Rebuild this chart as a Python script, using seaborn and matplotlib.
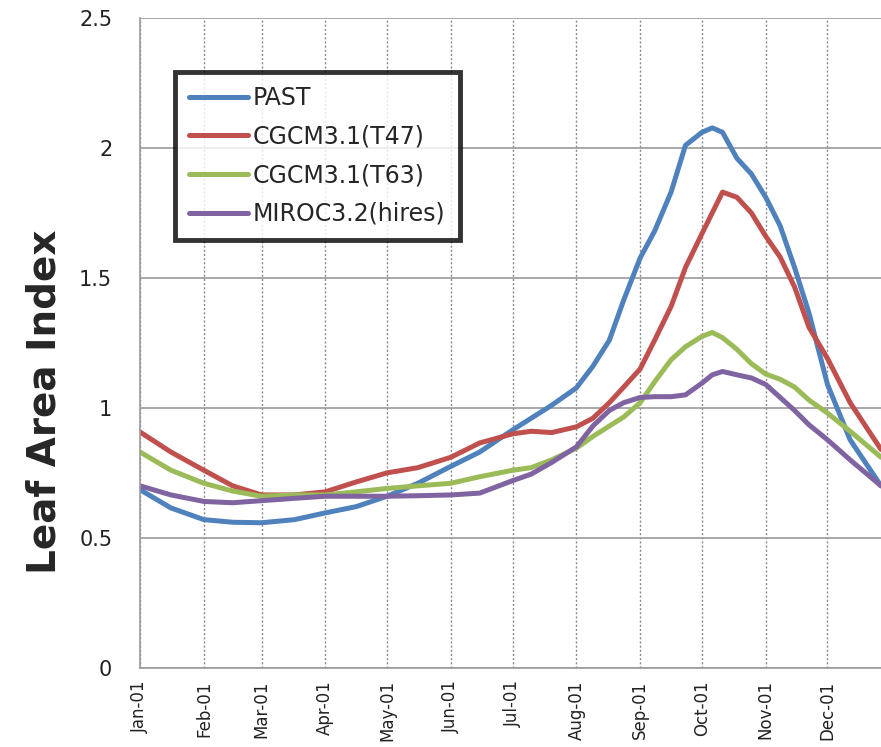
import numpy as np
import pandas as pd
import matplotlib
matplotlib.use("Agg")
import matplotlib.pyplot as plt
import seaborn as sns

# Datos (dia del año -> LAI)
dias = [0, 15, 31, 45, 59, 75, 90, 105, 120, 135, 151, 165, 181, 190, 200,
        212, 220, 228, 235, 243, 250, 258, 265, 273, 278, 283, 290, 297,
        304, 311, 318, 325, 334, 345, 360]

past = [0.685, 0.615, 0.57, 0.56, 0.558, 0.57, 0.596, 0.62, 0.66, 0.71, 0.775,
        0.83, 0.915, 0.96, 1.01, 1.077, 1.16, 1.26, 1.415, 1.577, 1.68, 1.83,
        2.01, 2.06, 2.077, 2.06, 1.96, 1.90, 1.81, 1.70, 1.54, 1.365, 1.09,
        0.877, 0.70]

t47 = [0.907, 0.83, 0.76, 0.70, 0.665, 0.665, 0.677, 0.715, 0.75, 0.77, 0.81,
       0.865, 0.90, 0.91, 0.905, 0.927, 0.96, 1.02, 1.08, 1.15, 1.26, 1.39,
       1.54, 1.67, 1.75, 1.83, 1.81, 1.75, 1.66, 1.58, 1.465, 1.31, 1.19,
       1.02, 0.84]

t63 = [0.83, 0.76, 0.71, 0.68, 0.66, 0.665, 0.665, 0.677, 0.69, 0.70, 0.71,
       0.735, 0.76, 0.77, 0.80, 0.845, 0.89, 0.93, 0.965, 1.02, 1.10, 1.185,
       1.235, 1.275, 1.29, 1.27, 1.225, 1.17, 1.13, 1.11, 1.08, 1.03, 0.98,
       0.91, 0.81]

miroc = [0.70, 0.665, 0.64, 0.635, 0.643, 0.652, 0.66, 0.66, 0.66, 0.662,
         0.665, 0.672, 0.72, 0.745, 0.79, 0.85, 0.93, 0.99, 1.02, 1.04, 1.043,
         1.043, 1.05, 1.095, 1.127, 1.14, 1.127, 1.115, 1.09, 1.04, 0.99,
         0.935, 0.877, 0.80, 0.70]

series = ["PAST", "CGCM3.1(T47)", "CGCM3.1(T63)", "MIROC3.2(hires)"]
colores = ["#4F81BD", "#C0504D", "#9BBB59", "#8064A2"]

mes_inicio = [0, 31, 59, 90, 120, 151, 181, 212, 243, 273, 304, 334]
mes_etiquetas = ["Jan-01", "Feb-01", "Mar-01", "Apr-01", "May-01", "Jun-01",
                 "Jul-01", "Aug-01", "Sep-01", "Oct-01", "Nov-01", "Dec-01"]

# Tabla larga para seaborn
df = pd.DataFrame({
    "dia": dias * 4,
    "lai": past + t47 + t63 + miroc,
    "serie": np.repeat(series, len(dias)),
})

sns.set_style("white")
plt.rcParams["font.family"] = ["DejaVu Sans"]

fig = plt.figure(figsize=(8.81, 7.47), dpi=100)
ax = fig.add_axes([0.159, 0.106, 0.841, 0.870])

sns.lineplot(data=df, x="dia", y="lai", hue="serie", hue_order=series,
             palette=colores, linewidth=3.6, ax=ax, sort=False)

ax.set_xlim(0, 360)
ax.set_ylim(0, 2.5)
ax.set_yticks([0, 0.5, 1, 1.5, 2, 2.5])
ax.set_yticklabels(["0", "0.5", "1", "1.5", "2", "2.5"], fontsize=15, color="#222222")
ax.set_xticks(mes_inicio)
ax.set_xticklabels(mes_etiquetas, rotation=90, fontsize=12, color="#222222")

# rejilla: horizontal continua, vertical punteada
ax.grid(axis="y", color="#9a9a9a", linewidth=1.2, linestyle="-")
ax.grid(axis="x", color="#8a8a8a", linewidth=1.0, linestyle=(0, (1.5, 1.5)))
ax.set_axisbelow(True)

for lado in ["top", "right"]:
    ax.spines[lado].set_visible(False)
for lado in ["left", "bottom"]:
    ax.spines[lado].set_color("#9a9a9a")
    ax.spines[lado].set_linewidth(1.2)
ax.tick_params(axis="y", direction="out", length=7, width=1.2, color="#9a9a9a", pad=13)
ax.tick_params(axis="x", direction="out", length=5, width=1.2, color="#9a9a9a", pad=4)

ax.set_xlabel("")
ax.set_ylabel("Leaf Area Index", fontsize=28, fontweight="bold")
ax.yaxis.set_label_coords(-0.104, 0.41)

leg = ax.legend(loc="upper left", bbox_to_anchor=(0.047, 0.917), borderaxespad=0,
                fontsize=17, frameon=True, fancybox=False, handlelength=2.5,
                labelspacing=0.62, handletextpad=0.2, borderpad=0.6)
leg.get_frame().set_edgecolor("black")
leg.get_frame().set_linewidth(3.5)
for linea in leg.get_lines():
    linea.set_linewidth(3.6)

fig.savefig("out.png", dpi=100)
